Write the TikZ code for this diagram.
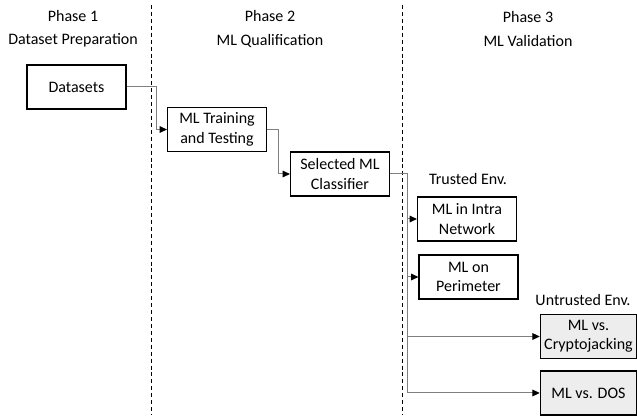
\documentclass[tikz,border=0pt]{standalone}
\usepackage{fontspec}
\setmainfont{Carlito}
\usetikzlibrary{arrows.meta}
\definecolor{conncol}{HTML}{7F7F7F}
\definecolor{untrustfill}{HTML}{EDEDED}
\tikzset{
  box/.style={draw=black, line width=1.1pt, minimum width=74pt, minimum height=33pt,
              inner sep=1pt, align=center, font=\fontsize{12}{14.6}\selectfont},
  untrusted/.style={box, fill=untrustfill, minimum width=72pt},
  conn/.style={draw=conncol, line width=0.75pt},
  arr/.style={conn, -{Triangle[length=5.5pt,width=5pt,color=black]}},
  phase/.style={align=center, font=\fontsize{12}{17.5}\selectfont},
  envlabel/.style={font=\fontsize{12}{14.6}\selectfont},
  sep/.style={draw=black, line width=0.6pt, dash pattern=on 3pt off 2.2pt}
}
\begin{document}
\begin{tikzpicture}[x=0.75pt, y=-0.75pt]
  \useasboundingbox (0,0) rectangle (637,420);

  % phase separators
  \draw[sep] (151,5) -- (151,415);
  \draw[sep] (402,5) -- (402,415);

  % phase headings
  \node[phase] (p1) at (73,29) {Phase 1\\Dataset Preparation};
  \node[phase] (p2) at (270,29) {Phase 2\\ML Qualification};
  \node[phase] (p3) at (528,29) {Phase 3\\ML Validation};

  % process boxes
  \node[box] (ds)   at (76.5,87)  {Datasets};
  \node[box] (mlt)  at (217,129.5) {ML Training\\and Testing};
  \node[box] (sel)  at (340,174)  {Selected ML\\Classifier};
  \node[box] (intra) at (467,219) {ML in Intra\\Network};
  \node[box] (perim) at (468.5,277) {ML on\\Perimeter};
  \node[untrusted] (crypto) at (588.5,336.5) {ML vs.\\Cryptojacking};
  \node[untrusted] (dos)    at (588.5,393) {ML vs. DOS};

  % environment labels
  \node[envlabel] (trusted) at (468,179) {Trusted Env.};
  \node[envlabel] (untr)    at (583,300) {Untrusted Env.};

  % connectors
  \coordinate (j1) at (156,87);
  \coordinate (j2) at (278,129.5);
  \coordinate (trunk) at (407,174);
  \draw[arr] (ds.east) -- (j1) |- (mlt.west);
  \draw[arr] (mlt.east) -- (j2) |- (sel.west);
  \draw[arr] (sel.east) -- (trunk) |- (dos.west);
  \draw[arr] (trunk |- intra.west) -- (intra.west);
  \draw[arr] (trunk |- perim.west) -- (perim.west);
  \draw[arr] (trunk |- crypto.west) -- (crypto.west);
\end{tikzpicture}
\end{document}
